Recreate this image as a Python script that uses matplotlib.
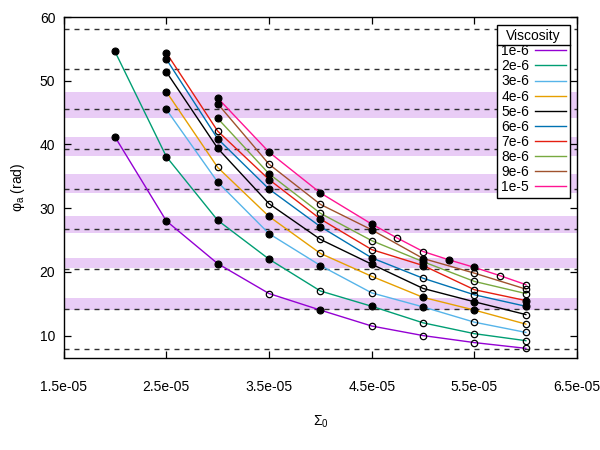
import matplotlib
matplotlib.use('Agg')
import matplotlib.pyplot as plt
from matplotlib.lines import Line2D

plt.rcParams['font.family'] = ['Liberation Sans', 'DejaVu Sans']
plt.rcParams['font.size'] = 10
plt.rcParams['mathtext.default'] = 'regular'

# --- data ---------------------------------------------------------------
viscosity = ['1e-6', '2e-6', '3e-6', '4e-6', '5e-6', '6e-6', '7e-6', '8e-6', '9e-6', '1e-5']
colors = ['#9400d3', '#009e73', '#56b4e9', '#e69f00', '#000000',
          '#0072b2', '#e51e10', '#78a940', '#a0522d', '#ff1493']

sig_a = [2.0e-5, 2.5e-5, 3.0e-5, 3.5e-5, 4.0e-5, 4.5e-5, 5.0e-5, 5.5e-5, 6.0e-5]
sig_b = [2.5e-5, 3.0e-5, 3.5e-5, 4.0e-5, 4.5e-5, 5.0e-5, 5.5e-5, 6.0e-5]
sig_c = [3.0e-5, 3.5e-5, 4.0e-5, 4.5e-5, 5.0e-5, 5.5e-5, 6.0e-5]
sig_d = [3.0e-5, 3.5e-5, 4.0e-5, 4.5e-5, 4.75e-5, 5.0e-5, 5.25e-5, 5.5e-5, 5.75e-5, 6.0e-5]

phi_1 = [41.2, 28.0, 21.3, 16.6, 14.0, 11.5, 10.0, 8.9, 8.0]
phi_2 = [54.6, 38.1, 28.1, 22.0, 17.0, 14.6, 12.0, 10.3, 9.2]
phi_3 = [45.5, 34.1, 26.0, 21.0, 16.7, 14.5, 12.1, 10.5]
phi_4 = [48.3, 36.4, 28.7, 22.9, 19.3, 16.0, 14.0, 11.8]
phi_5 = [51.4, 39.4, 30.7, 25.1, 21.2, 17.4, 15.3, 13.3]
phi_6 = [53.4, 40.9, 33.0, 27.1, 22.2, 19.0, 16.4, 14.6]
phi_7 = [54.4, 42.1, 34.5, 28.3, 23.5, 21.0, 17.2, 15.5]
phi_8 = [44.1, 35.4, 29.2, 24.9, 21.6, 18.5, 16.6]
phi_9 = [46.4, 36.9, 30.6, 26.6, 22.1, 19.8, 17.3]
phi_10 = [47.3, 38.8, 32.4, 27.5, 25.3, 23.2, 21.9, 20.7, 19.4, 18.0]

# 1 = filled marker, 0 = open marker
lock_1 = [1, 1, 1, 0, 1, 0, 0, 0, 0]
lock_2 = [1, 1, 1, 1, 0, 1, 0, 0, 0]
lock_3 = [1, 1, 1, 1, 0, 1, 0, 0]
lock_4 = [1, 0, 1, 0, 0, 1, 1, 0]
lock_5 = [1, 1, 0, 0, 1, 0, 1, 0]
lock_6 = [1, 1, 1, 1, 1, 0, 0, 1]
lock_7 = [1, 0, 1, 1, 0, 1, 0, 1]
lock_8 = [1, 1, 0, 0, 1, 0, 0]
lock_9 = [1, 0, 0, 1, 1, 0, 0]
lock_10 = [1, 1, 1, 1, 0, 0, 1, 1, 0, 0]

sigmas = [sig_a, sig_a, sig_b, sig_b, sig_b, sig_b, sig_b, sig_c, sig_c, sig_d]
phis = [phi_1, phi_2, phi_3, phi_4, phi_5, phi_6, phi_7, phi_8, phi_9, phi_10]
locks = [lock_1, lock_2, lock_3, lock_4, lock_5, lock_6, lock_7, lock_8, lock_9, lock_10]

# horizontal reference levels and shaded bands
levels = [7.85, 14.14, 20.42, 26.70, 32.99, 39.27, 45.55, 51.84, 58.12]
bands = [(14.0, 15.9), (20.6, 22.15), (26.1, 28.7), (32.4, 35.35), (38.2, 41.2), (44.1, 48.2)]

x_ticks = [1.5e-5, 2.5e-5, 3.5e-5, 4.5e-5, 5.5e-5, 6.5e-5]
y_ticks = [10, 20, 30, 40, 50, 60]

# --- plot ---------------------------------------------------------------
fig = plt.figure(figsize=(6, 4.5), dpi=100)
ax = fig.add_axes([0.106, 0.204, 0.856, 0.758])

for lo, hi in bands:
    ax.axhspan(lo, hi, color='#9400d3', alpha=0.2, lw=0, zorder=0)
for lv in levels:
    ax.axhline(lv, color='#303030', lw=1.0, ls=(0, (3.6, 3.6)), zorder=1)

for i in range(len(viscosity)):
    ax.plot(sigmas[i], phis[i], color=colors[i], lw=1.0, label=viscosity[i], zorder=2)
    xf = [x for x, f in zip(sigmas[i], locks[i]) if f]
    yf = [y for y, f in zip(phis[i], locks[i]) if f]
    xo = [x for x, f in zip(sigmas[i], locks[i]) if not f]
    yo = [y for y, f in zip(phis[i], locks[i]) if not f]
    ax.plot(xf, yf, 'o', ms=5, mfc='black', mec='black', mew=0.8, zorder=3)
    ax.plot(xo, yo, 'o', ms=4.6, mfc='none', mec='black', mew=0.9, zorder=3)

ax.set_xlim(1.5e-5, 6.5e-5)
ax.set_ylim(6.45, 60)
ax.set_xticks(x_ticks)
ax.set_xticklabels(['%.1e' % v for v in x_ticks])
ax.set_yticks(y_ticks)
ax.tick_params(direction='in', length=5, width=0.9, top=True, right=True)
ax.tick_params(axis='x', pad=16)
ax.tick_params(axis='y', pad=6)
for s in ax.spines.values():
    s.set_linewidth(1.0)

ax.set_xlabel('Σ$_{0}$', labelpad=14)
ax.set_ylabel('φ$_{a}$ (rad)', labelpad=9)

leg = ax.legend(title='Viscosity', loc='upper right', bbox_to_anchor=(0.986, 0.977),
                borderaxespad=0, markerfirst=False, fancybox=False, framealpha=1,
                edgecolor='black', handlelength=2.2, handletextpad=0.45,
                labelspacing=0.08, borderpad=0.3)
leg.get_frame().set_linewidth(1.0)

# separator line under the legend title
fig.canvas.draw()
r = fig.canvas.get_renderer()
lb = leg.get_window_extent(r)
tb = leg.get_title().get_window_extent(r)
inv = fig.transFigure.inverted()
(x0, ys), (x1, _) = inv.transform([(lb.x0, tb.y0 - 2), (lb.x1, tb.y0 - 2)])
fig.add_artist(Line2D([x0, x1], [ys, ys], color='black', lw=1.0))

fig.savefig('out.png', dpi=100)
